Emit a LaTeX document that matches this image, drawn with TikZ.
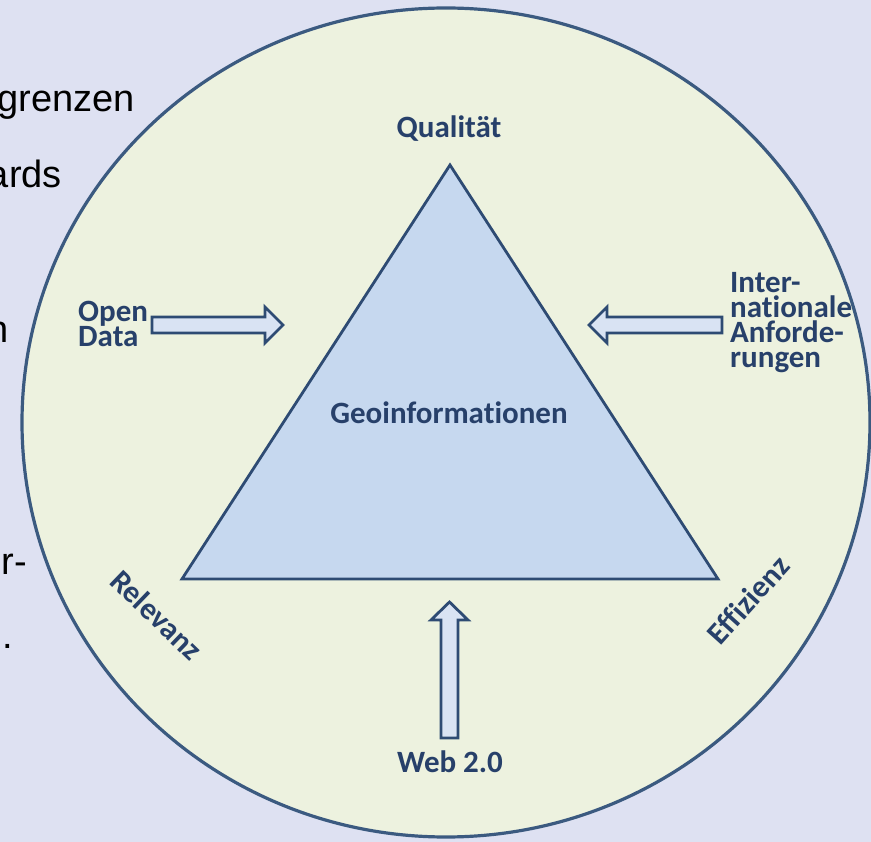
\documentclass[tikz,border=0pt]{standalone}
\usepackage{fontspec}
\setmainfont{Carlito}[Ligatures=NoCommon]
\newfontfamily\arialf{Liberation Sans}
\definecolor{bgc}{HTML}{DEE1F2}
\definecolor{circfill}{HTML}{EDF2DF}
\definecolor{circline}{HTML}{3B5A80}
\definecolor{trifill}{HTML}{C6D8EF}
\definecolor{triline}{HTML}{2E4B73}
\definecolor{arrfill}{HTML}{D9E3F3}
\definecolor{txt}{HTML}{27406A}
\begin{document}
\begin{tikzpicture}[x=1pt,y=-1pt,
  lbl/.style={font=\bfseries\fontsize{31}{25}\selectfont, text=txt, inner sep=0pt},
  bgtext/.style={font=\arialf\fontsize{38}{40}\selectfont, text=black, inner sep=0pt, anchor=base east},
  blockarrow/.style={draw=triline, line width=2.8pt, fill=arrfill, line join=miter},
  tri/.style={draw=triline, line width=2.8pt, fill=trifill, line join=miter}]
\useasboundingbox (0,0) rectangle (871,842);
\clip (0,0) rectangle (871,842);
\fill[bgc] (0,0) rectangle (871,842);
% text fragments behind the circle
\node[bgtext] (t1) at (135,112) {grenzen};
\node[bgtext] (t2) at (62,188) {ards};
\node[bgtext] (t3) at (9,343) {n};
\node[bgtext] (t4) at (27,574) {r-};
\node[bgtext] (t5) at (13,648) {n.};
% circle
\coordinate (cc) at (446,422.5);
\draw[circline, line width=3.2pt, fill=circfill] (cc) ellipse [x radius=424pt, y radius=414.5pt];
% triangle
\coordinate (apex) at (450,165);
\coordinate (bl) at (182,579);
\coordinate (br) at (718,579);
\draw[tri] (apex) -- (bl) -- (br) -- cycle;
% block arrows
\draw[blockarrow] (152,317) -- (265,317) -- (265,307) -- (283,325) -- (265,343) -- (265,333) -- (152,333) -- cycle;
\draw[blockarrow] (722,317) -- (607,317) -- (607,307) -- (589,325) -- (607,343) -- (607,333) -- (722,333) -- cycle;
\draw[blockarrow] (441,738) -- (441,620) -- (431,620) -- (449.5,602) -- (468,620) -- (458,620) -- (458,738) -- cycle;
% labels
\node[lbl, anchor=base] (qual) at (449,138) {Qualität};
\node[lbl, anchor=base] (geo) at (449,424) {Geoinformationen};
\node[lbl, anchor=base] (web) at (450,772) {Web 2.0};
\node[lbl, anchor=base west, align=left] (open) at (78,347) {Open\\Data};
\node[lbl, anchor=base west, align=left] (intl) at (730,368) {Inter-\\nationale\\Anforde-\\rungen};
\node[lbl, rotate=-44] (rel) at (157,615) {Relevanz};
\node[lbl, rotate=48] (eff) at (748,600) {Effizienz};
\end{tikzpicture}
\end{document}
